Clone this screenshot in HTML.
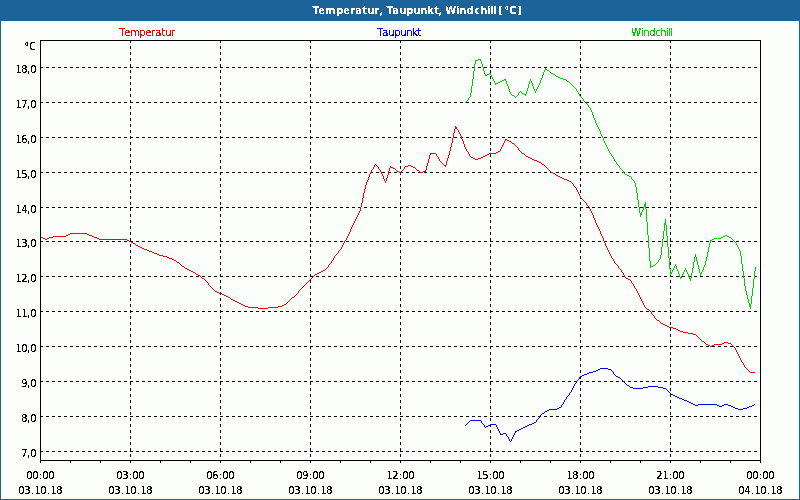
<!DOCTYPE html>
<html lang="de">
<head>
<meta charset="utf-8">
<title>Temperatur, Taupunkt, Windchill [°C]</title>
<style>
html,body{margin:0;padding:0;background:#fcfefb;}
body{width:800px;height:500px;overflow:hidden;position:relative;font-family:"Liberation Sans",sans-serif;}
svg{position:absolute;left:0;top:0;display:block;}
text{font-family:"DejaVu Sans Condensed","Liberation Sans",sans-serif;font-size:11px;fill:#000;}
.t{font-weight:bold;fill:#fff;}
.g line{stroke:#000;stroke-width:1;stroke-dasharray:3 3;}
</style>
</head>
<body>
<svg width="800" height="500" viewBox="0 0 800 500">
<defs>
<filter id="cr" x="0" y="0" width="800" height="500" filterUnits="userSpaceOnUse" color-interpolation-filters="sRGB">
<feComponentTransfer><feFuncA type="discrete" tableValues="0 0 1 1 1"/></feComponentTransfer>
</filter>
<filter id="cb" x="0" y="0" width="800" height="21" filterUnits="userSpaceOnUse" color-interpolation-filters="sRGB">
<feComponentTransfer><feFuncA type="discrete" tableValues="0 1"/></feComponentTransfer>
</filter>
</defs>
<rect x="0" y="0" width="800" height="500" fill="#fcfefb"/>
<rect x="0" y="0" width="800" height="21" fill="#1c6399"/>
<rect x="0" y="0" width="1" height="500" fill="#1c6399"/>
<rect x="799" y="0" width="1" height="500" fill="#1c6399"/>
<rect x="0" y="499" width="800" height="1" fill="#1c6399"/>
<g class="g" shape-rendering="crispEdges">
<line x1="40" y1="67.5" x2="757" y2="67.5"/>
<line x1="40" y1="102.5" x2="757" y2="102.5"/>
<line x1="40" y1="137.5" x2="757" y2="137.5"/>
<line x1="40" y1="172.5" x2="757" y2="172.5"/>
<line x1="40" y1="207.5" x2="757" y2="207.5"/>
<line x1="40" y1="241.5" x2="757" y2="241.5"/>
<line x1="40" y1="276.5" x2="757" y2="276.5"/>
<line x1="40" y1="311.5" x2="757" y2="311.5"/>
<line x1="40" y1="346.5" x2="757" y2="346.5"/>
<line x1="40" y1="381.5" x2="757" y2="381.5"/>
<line x1="40" y1="416.5" x2="757" y2="416.5"/>
<line x1="40" y1="451.5" x2="757" y2="451.5"/>
<line x1="130.5" y1="40" x2="130.5" y2="457"/>
<line x1="220.5" y1="40" x2="220.5" y2="457"/>
<line x1="310.5" y1="40" x2="310.5" y2="457"/>
<line x1="400.5" y1="40" x2="400.5" y2="457"/>
<line x1="490.5" y1="40" x2="490.5" y2="457"/>
<line x1="580.5" y1="40" x2="580.5" y2="457"/>
<line x1="670.5" y1="40" x2="670.5" y2="457"/>
</g>
<g shape-rendering="crispEdges">
<path fill="#ff0000" d="M40 236h1v1h-1zM41 237h2v1h-2zM43 238h2v1h-2zM45 239h2v1h-2zM47 238h2v1h-2zM49 237h4v1h-4zM53 236h13v1h-13zM66 235h2v1h-2zM68 234h2v1h-2zM70 233h17v1h-17zM87 234h2v1h-2zM89 235h3v1h-3zM92 236h2v1h-2zM94 237h3v1h-3zM97 238h2v1h-2zM99 239h28v1h-28zM127 240h2v1h-2zM129 241h2v1h-2zM131 242h2v1h-2zM133 243h2v1h-2zM135 244h1v1h-1zM136 245h2v1h-2zM138 246h2v1h-2zM140 247h2v1h-2zM142 248h2v1h-2zM144 249h3v1h-3zM147 250h2v1h-2zM149 251h3v1h-3zM152 252h2v1h-2zM154 253h3v1h-3zM157 254h2v1h-2zM159 255h4v1h-4zM163 256h4v1h-4zM167 257h2v1h-2zM169 258h3v1h-3zM172 259h2v1h-2zM174 260h2v1h-2zM176 261h1v1h-1zM177 262h2v1h-2zM179 263h1v1h-1zM180 264h1v1h-1zM181 265h1v1h-1zM182 266h2v1h-2zM184 267h1v1h-1zM185 268h2v1h-2zM187 269h2v1h-2zM189 270h2v1h-2zM191 271h2v1h-2zM193 272h2v1h-2zM195 273h1v1h-1zM196 274h2v1h-2zM198 275h2v1h-2zM200 276h1v1h-1zM201 277h1v1h-1zM202 278h2v1h-2zM204 279h1v1h-1zM205 280h1v1h-1zM206 281h1v1h-1zM207 282h1v1h-1zM208 283h1v2h-1zM209 285h1v1h-1zM210 286h1v1h-1zM211 287h1v1h-1zM212 288h1v1h-1zM213 289h1v1h-1zM214 290h1v1h-1zM215 291h2v1h-2zM217 292h2v1h-2zM219 293h3v1h-3zM222 294h2v1h-2zM224 295h2v1h-2zM226 296h2v1h-2zM228 297h2v1h-2zM230 298h1v1h-1zM231 299h2v1h-2zM233 300h2v1h-2zM235 301h2v1h-2zM237 302h2v1h-2zM239 303h2v1h-2zM241 304h2v1h-2zM243 305h2v1h-2zM245 306h3v1h-3zM248 307h10v1h-10zM258 308h10v1h-10zM268 307h10v1h-10zM278 306h4v1h-4zM282 305h2v1h-2zM284 304h2v1h-2zM286 303h1v1h-1zM287 302h1v1h-1zM288 301h1v1h-1zM289 300h1v1h-1zM290 299h1v1h-1zM291 298h1v1h-1zM292 297h2v1h-2zM294 296h1v1h-1zM295 295h1v1h-1zM296 294h1v1h-1zM297 293h1v1h-1zM298 291h1v2h-1zM299 290h1v1h-1zM300 289h1v1h-1zM301 288h1v1h-1zM302 287h1v1h-1zM303 286h1v1h-1zM304 285h1v1h-1zM305 284h1v1h-1zM306 283h1v1h-1zM307 282h1v1h-1zM308 281h1v1h-1zM309 280h1v1h-1zM310 279h1v1h-1zM311 278h1v1h-1zM312 277h1v1h-1zM313 276h1v1h-1zM314 275h1v1h-1zM315 274h2v1h-2zM317 273h2v1h-2zM319 272h2v1h-2zM321 271h2v1h-2zM323 270h2v1h-2zM325 269h1v1h-1zM326 268h1v1h-1zM327 267h1v1h-1zM328 265h1v2h-1zM329 264h1v1h-1zM330 263h1v1h-1zM331 261h1v2h-1zM332 260h1v1h-1zM333 258h1v2h-1zM334 256h1v2h-1zM335 255h1v1h-1zM336 254h1v1h-1zM337 253h1v1h-1zM338 251h1v2h-1zM339 250h1v1h-1zM340 249h1v1h-1zM341 247h1v2h-1zM342 245h1v2h-1zM343 243h1v2h-1zM344 241h1v2h-1zM345 240h1v1h-1zM346 238h1v2h-1zM347 236h1v2h-1zM348 234h1v2h-1zM349 232h1v2h-1zM350 229h1v3h-1zM351 227h1v2h-1zM352 225h1v2h-1zM353 223h1v2h-1zM354 221h1v2h-1zM355 219h1v2h-1zM356 217h1v2h-1zM357 215h1v2h-1zM358 213h1v2h-1zM359 211h1v2h-1zM360 207h1v4h-1zM361 203h1v4h-1zM362 198h1v5h-1zM363 193h1v5h-1zM364 189h1v4h-1zM365 185h1v4h-1zM366 182h1v3h-1zM367 180h1v2h-1zM368 177h1v3h-1zM369 174h1v3h-1zM370 172h1v2h-1zM371 170h1v2h-1zM372 169h1v1h-1zM373 167h1v2h-1zM374 165h1v2h-1zM375 164h1v1h-1zM376 165h1v1h-1zM377 166h1v1h-1zM378 167h1v2h-1zM379 169h1v1h-1zM380 170h1v2h-1zM381 172h1v2h-1zM382 174h1v2h-1zM383 176h1v3h-1zM384 179h1v2h-1zM385 181h1v2h-1zM386 178h1v3h-1zM387 175h1v3h-1zM388 171h1v4h-1zM389 168h1v3h-1zM390 166h1v2h-1zM391 167h2v1h-2zM393 168h2v1h-2zM395 169h1v1h-1zM396 170h1v1h-1zM397 171h2v1h-2zM399 172h1v1h-1zM400 173h1v1h-1zM401 171h1v2h-1zM402 170h1v1h-1zM403 169h1v1h-1zM404 167h1v2h-1zM405 166h3v1h-3zM408 165h3v1h-3zM411 166h2v1h-2zM413 167h2v1h-2zM415 168h1v1h-1zM416 169h1v1h-1zM417 170h2v1h-2zM419 171h1v1h-1zM420 172h3v1h-3zM423 171h3v1h-3zM425 170h1v1h-1zM426 166h1v4h-1zM427 163h1v3h-1zM428 159h1v4h-1zM429 155h1v4h-1zM430 153h6v1h-6zM430 154h1v1h-1zM436 154h1v2h-1zM437 156h1v1h-1zM438 157h1v2h-1zM439 159h1v2h-1zM440 161h1v1h-1zM441 162h1v1h-1zM442 163h1v1h-1zM443 164h1v1h-1zM444 165h2v1h-2zM445 166h1v1h-1zM446 161h1v4h-1zM447 158h1v3h-1zM448 155h1v3h-1zM449 151h1v4h-1zM450 147h1v4h-1zM451 143h1v4h-1zM452 138h1v5h-1zM453 133h1v5h-1zM454 129h1v4h-1zM455 126h1v3h-1zM456 127h1v2h-1zM457 129h1v1h-1zM458 130h1v2h-1zM459 132h1v2h-1zM460 134h1v2h-1zM461 136h1v3h-1zM462 139h1v2h-1zM463 141h1v3h-1zM464 144h1v3h-1zM465 147h1v2h-1zM466 149h1v2h-1zM467 151h1v1h-1zM468 152h1v2h-1zM469 154h1v2h-1zM470 156h1v1h-1zM471 157h2v1h-2zM473 158h2v1h-2zM475 159h3v1h-3zM478 158h3v1h-3zM481 157h2v1h-2zM483 156h2v1h-2zM485 155h2v1h-2zM487 154h2v1h-2zM489 153h7v1h-7zM496 152h2v1h-2zM498 151h2v1h-2zM500 149h1v2h-1zM501 147h1v2h-1zM502 145h1v2h-1zM503 143h1v2h-1zM504 141h1v2h-1zM505 139h2v1h-2zM505 140h1v1h-1zM507 140h2v1h-2zM509 141h2v1h-2zM511 142h1v1h-1zM512 143h2v1h-2zM514 144h1v1h-1zM515 145h1v1h-1zM516 146h1v1h-1zM517 147h1v1h-1zM518 148h1v2h-1zM519 150h1v1h-1zM520 151h1v1h-1zM521 152h1v1h-1zM522 153h2v1h-2zM524 154h1v1h-1zM525 155h1v1h-1zM526 156h2v1h-2zM528 157h2v1h-2zM530 158h2v1h-2zM532 159h2v1h-2zM534 160h3v1h-3zM537 161h2v1h-2zM539 162h2v1h-2zM541 163h1v1h-1zM542 164h2v1h-2zM544 165h1v1h-1zM545 166h1v1h-1zM546 167h1v1h-1zM547 168h1v1h-1zM548 169h1v1h-1zM549 170h1v1h-1zM550 171h1v1h-1zM551 172h2v1h-2zM553 173h2v1h-2zM555 174h1v1h-1zM556 175h2v1h-2zM558 176h2v1h-2zM560 177h2v1h-2zM562 178h2v1h-2zM564 179h3v1h-3zM567 180h2v1h-2zM569 181h2v1h-2zM571 182h1v1h-1zM572 183h1v1h-1zM573 184h1v2h-1zM574 186h1v1h-1zM575 187h1v1h-1zM576 188h1v2h-1zM577 190h1v2h-1zM578 192h1v2h-1zM579 194h1v2h-1zM580 196h1v2h-1zM581 198h1v1h-1zM582 199h1v1h-1zM583 200h1v1h-1zM584 201h1v1h-1zM585 202h1v1h-1zM586 203h1v2h-1zM587 205h1v1h-1zM588 206h1v1h-1zM589 207h1v2h-1zM590 209h1v2h-1zM591 211h1v2h-1zM592 213h1v2h-1zM593 215h1v3h-1zM594 218h1v2h-1zM595 220h1v3h-1zM596 223h1v2h-1zM597 225h1v2h-1zM598 227h1v2h-1zM599 229h1v2h-1zM600 231h1v3h-1zM601 234h1v2h-1zM602 236h1v2h-1zM603 238h1v3h-1zM604 241h1v2h-1zM605 243h1v3h-1zM606 246h1v2h-1zM607 248h1v2h-1zM608 250h1v2h-1zM609 252h1v2h-1zM610 254h1v2h-1zM611 256h1v2h-1zM612 258h1v1h-1zM613 259h1v2h-1zM614 261h1v2h-1zM615 263h1v1h-1zM616 264h1v1h-1zM617 265h1v1h-1zM618 266h1v2h-1zM619 268h1v1h-1zM620 269h1v1h-1zM621 270h1v2h-1zM622 272h1v1h-1zM623 273h1v2h-1zM624 275h1v2h-1zM625 277h1v1h-1zM626 278h2v1h-2zM628 279h2v1h-2zM630 280h1v1h-1zM631 281h1v2h-1zM632 283h1v1h-1zM633 284h1v2h-1zM634 286h1v2h-1zM635 288h1v1h-1zM636 289h1v2h-1zM637 291h1v2h-1zM638 293h1v2h-1zM639 295h1v2h-1zM640 297h1v2h-1zM641 299h1v2h-1zM642 301h1v2h-1zM643 303h1v2h-1zM644 305h1v2h-1zM645 307h1v1h-1zM646 308h1v1h-1zM647 309h2v1h-2zM649 310h1v1h-1zM650 311h1v1h-1zM651 312h1v2h-1zM652 314h1v1h-1zM653 315h1v1h-1zM654 316h1v2h-1zM655 318h1v1h-1zM656 319h1v1h-1zM657 320h2v1h-2zM659 321h1v1h-1zM660 322h1v1h-1zM661 323h2v1h-2zM663 324h2v1h-2zM665 325h2v1h-2zM667 326h2v1h-2zM669 327h4v1h-4zM673 328h3v1h-3zM676 329h2v1h-2zM678 330h2v1h-2zM680 331h3v1h-3zM683 332h5v1h-5zM688 333h5v1h-5zM693 334h3v1h-3zM696 335h1v1h-1zM697 336h1v1h-1zM698 337h1v1h-1zM699 338h1v1h-1zM700 339h1v1h-1zM701 340h1v1h-1zM702 341h2v1h-2zM704 342h1v1h-1zM705 343h1v1h-1zM706 344h2v1h-2zM708 345h2v1h-2zM710 346h2v1h-2zM712 345h2v1h-2zM714 344h8v1h-8zM722 343h2v1h-2zM724 342h4v1h-4zM728 343h3v1h-3zM731 344h1v1h-1zM732 345h1v1h-1zM733 346h1v1h-1zM734 347h1v1h-1zM735 348h1v2h-1zM736 350h1v2h-1zM737 352h1v2h-1zM738 354h1v2h-1zM739 356h1v2h-1zM740 358h1v2h-1zM741 360h1v2h-1zM742 362h1v1h-1zM743 363h1v2h-1zM744 365h1v2h-1zM745 367h1v1h-1zM746 368h1v1h-1zM747 369h1v1h-1zM748 370h1v1h-1zM749 371h1v1h-1zM750 372h5v1h-5z"/>
<path fill="#00d000" d="M465 102h1v1h-1zM466 101h1v1h-1zM467 100h1v1h-1zM468 98h1v2h-1zM469 97h1v1h-1zM470 93h1v4h-1zM471 86h1v7h-1zM472 79h1v7h-1zM473 71h1v8h-1zM474 64h1v7h-1zM475 60h1v4h-1zM476 60h2v1h-2zM478 59h3v1h-3zM480 60h1v1h-1zM481 61h1v3h-1zM482 64h1v3h-1zM483 67h1v4h-1zM484 71h1v3h-1zM485 74h1v2h-1zM486 75h1v1h-1zM487 74h2v1h-2zM489 73h2v1h-2zM490 74h1v1h-1zM491 75h1v2h-1zM492 77h1v2h-1zM493 79h1v2h-1zM494 81h1v2h-1zM495 83h3v1h-3zM495 84h1v1h-1zM498 82h2v1h-2zM500 81h2v1h-2zM502 80h2v1h-2zM504 79h2v1h-2zM505 80h1v1h-1zM506 81h1v3h-1zM507 84h1v2h-1zM508 86h1v3h-1zM509 89h1v3h-1zM510 92h1v2h-1zM511 94h1v1h-1zM512 95h2v1h-2zM514 96h1v1h-1zM515 97h1v1h-1zM516 96h1v1h-1zM517 95h1v1h-1zM518 93h1v2h-1zM519 92h1v1h-1zM520 91h1v1h-1zM521 92h1v1h-1zM522 93h2v1h-2zM524 94h2v1h-2zM525 95h1v1h-1zM526 91h1v3h-1zM527 88h1v3h-1zM528 84h1v4h-1zM529 81h1v3h-1zM530 79h1v2h-1zM531 81h1v2h-1zM532 83h1v3h-1zM533 86h1v3h-1zM534 89h1v2h-1zM535 91h1v2h-1zM536 89h1v2h-1zM537 87h1v2h-1zM538 85h1v2h-1zM539 83h1v2h-1zM540 80h1v3h-1zM541 78h1v2h-1zM542 75h1v3h-1zM543 72h1v3h-1zM544 70h1v2h-1zM545 68h1v2h-1zM546 69h1v1h-1zM547 70h2v1h-2zM549 71h1v1h-1zM550 72h1v1h-1zM551 73h2v1h-2zM553 74h2v1h-2zM555 75h1v1h-1zM556 76h2v1h-2zM558 77h2v1h-2zM560 78h3v1h-3zM563 79h3v1h-3zM566 80h1v1h-1zM567 81h2v1h-2zM569 82h1v1h-1zM570 83h1v1h-1zM571 84h1v1h-1zM572 85h1v1h-1zM573 86h1v1h-1zM574 87h1v1h-1zM575 88h1v1h-1zM576 89h1v2h-1zM577 91h1v1h-1zM578 92h1v2h-1zM579 94h1v2h-1zM580 96h1v1h-1zM581 97h1v1h-1zM582 98h1v1h-1zM583 99h1v2h-1zM584 101h1v1h-1zM585 102h1v1h-1zM586 103h1v1h-1zM587 104h1v1h-1zM588 105h1v2h-1zM589 107h1v1h-1zM590 108h1v2h-1zM591 110h1v2h-1zM592 112h1v3h-1zM593 115h1v3h-1zM594 118h1v2h-1zM595 120h1v3h-1zM596 123h1v2h-1zM597 125h1v2h-1zM598 127h1v2h-1zM599 129h1v2h-1zM600 131h1v3h-1zM601 134h1v2h-1zM602 136h1v2h-1zM603 138h1v3h-1zM604 141h1v2h-1zM605 143h1v2h-1zM606 145h1v2h-1zM607 147h1v2h-1zM608 149h1v2h-1zM609 151h1v2h-1zM610 153h1v1h-1zM611 154h1v2h-1zM612 156h1v1h-1zM613 157h1v2h-1zM614 159h1v2h-1zM615 161h1v1h-1zM616 162h1v2h-1zM617 164h1v1h-1zM618 165h1v1h-1zM619 166h1v2h-1zM620 168h1v1h-1zM621 169h1v1h-1zM622 170h1v1h-1zM623 171h1v2h-1zM624 173h1v1h-1zM625 174h2v1h-2zM627 175h2v1h-2zM629 176h2v1h-2zM631 177h1v2h-1zM632 179h1v1h-1zM633 180h1v1h-1zM634 181h1v2h-1zM635 183h1v4h-1zM636 187h1v6h-1zM637 193h1v7h-1zM638 200h1v7h-1zM639 207h1v6h-1zM640 213h1v4h-1zM641 212h1v3h-1zM642 210h1v2h-1zM643 207h1v3h-1zM644 204h1v3h-1zM645 202h1v7h-1zM646 209h1v13h-1zM647 222h1v13h-1zM648 235h1v13h-1zM649 248h1v13h-1zM650 261h1v7h-1zM651 266h2v1h-2zM653 265h2v1h-2zM655 264h1v1h-1zM656 263h1v1h-1zM657 262h1v1h-1zM658 260h1v2h-1zM659 259h1v1h-1zM660 255h1v4h-1zM661 247h1v8h-1zM662 239h1v8h-1zM663 231h1v8h-1zM664 223h1v8h-1zM665 219h1v6h-1zM666 225h1v11h-1zM667 236h1v11h-1zM668 247h1v11h-1zM669 258h1v11h-1zM670 269h1v6h-1zM671 272h1v2h-1zM672 270h1v2h-1zM673 268h1v2h-1zM674 266h1v2h-1zM675 264h1v2h-1zM676 266h1v3h-1zM677 269h1v2h-1zM678 271h1v3h-1zM679 274h1v3h-1zM680 277h2v1h-2zM680 278h1v1h-1zM681 276h1v1h-1zM682 274h1v2h-1zM683 272h1v2h-1zM684 270h1v2h-1zM685 268h1v2h-1zM686 270h1v2h-1zM687 272h1v2h-1zM688 274h1v3h-1zM689 277h1v2h-1zM690 278h1v3h-1zM691 273h1v5h-1zM692 268h1v5h-1zM693 262h1v6h-1zM694 257h1v5h-1zM695 254h1v3h-1zM696 257h1v4h-1zM697 261h1v4h-1zM698 265h1v4h-1zM699 269h1v4h-1zM700 273h1v3h-1zM701 272h1v2h-1zM702 270h1v2h-1zM703 267h1v3h-1zM704 265h1v2h-1zM705 261h1v4h-1zM706 257h1v4h-1zM707 252h1v5h-1zM708 247h1v5h-1zM709 243h1v4h-1zM710 240h1v3h-1zM711 240h1v1h-1zM712 239h2v1h-2zM714 238h7v1h-7zM721 237h2v1h-2zM723 236h2v1h-2zM725 235h2v1h-2zM727 236h2v1h-2zM729 237h2v1h-2zM731 238h1v1h-1zM732 239h1v1h-1zM733 240h1v1h-1zM734 241h1v1h-1zM735 242h1v1h-1zM736 243h1v2h-1zM737 245h1v2h-1zM738 247h1v2h-1zM739 249h1v2h-1zM740 251h1v5h-1zM741 256h1v8h-1zM742 264h1v7h-1zM743 271h1v7h-1zM744 278h1v8h-1zM745 286h1v5h-1zM746 291h1v4h-1zM747 295h1v4h-1zM748 299h1v4h-1zM749 303h1v4h-1zM750 304h1v5h-1zM751 296h1v8h-1zM752 288h1v8h-1zM753 279h1v9h-1zM754 271h1v8h-1zM755 267h1v4h-1z"/>
<path fill="#0000ff" d="M465 425h1v1h-1zM466 424h1v1h-1zM467 423h1v1h-1zM468 422h1v1h-1zM469 421h1v1h-1zM470 420h11v1h-11zM481 421h1v2h-1zM482 423h1v1h-1zM483 424h1v1h-1zM484 425h1v2h-1zM485 427h1v1h-1zM486 426h2v1h-2zM488 425h2v1h-2zM490 424h6v1h-6zM496 425h1v2h-1zM497 427h1v2h-1zM498 429h1v2h-1zM499 431h1v2h-1zM500 433h1v2h-1zM501 434h2v1h-2zM503 433h3v1h-3zM506 434h1v2h-1zM507 436h1v1h-1zM508 437h1v2h-1zM509 439h1v2h-1zM510 441h1v1h-1zM511 439h1v2h-1zM512 437h1v2h-1zM513 435h1v2h-1zM514 433h1v2h-1zM515 431h2v1h-2zM515 432h1v1h-1zM517 430h2v1h-2zM519 429h2v1h-2zM521 428h2v1h-2zM523 427h2v1h-2zM525 426h2v1h-2zM527 425h2v1h-2zM529 424h3v1h-3zM532 423h2v1h-2zM534 422h2v1h-2zM536 420h1v2h-1zM537 419h1v1h-1zM538 418h1v1h-1zM539 416h1v2h-1zM540 415h1v1h-1zM541 414h1v1h-1zM542 413h2v1h-2zM544 412h1v1h-1zM545 411h2v1h-2zM547 410h2v1h-2zM549 409h8v1h-8zM557 408h2v1h-2zM559 407h2v1h-2zM561 405h1v2h-1zM562 404h1v1h-1zM563 402h1v2h-1zM564 400h1v2h-1zM565 399h1v1h-1zM566 397h1v2h-1zM567 396h1v1h-1zM568 395h1v1h-1zM569 393h1v2h-1zM570 392h1v1h-1zM571 390h1v2h-1zM572 388h1v2h-1zM573 386h1v2h-1zM574 384h1v2h-1zM575 383h1v1h-1zM576 381h1v2h-1zM577 380h1v1h-1zM578 379h1v1h-1zM579 377h1v2h-1zM580 376h2v1h-2zM582 375h2v1h-2zM584 374h3v1h-3zM587 373h2v1h-2zM589 372h4v1h-4zM593 371h3v1h-3zM596 370h2v1h-2zM598 369h2v1h-2zM600 368h8v1h-8zM608 369h3v1h-3zM611 370h1v1h-1zM612 371h1v1h-1zM613 372h1v2h-1zM614 374h1v1h-1zM615 375h1v1h-1zM616 376h2v1h-2zM618 377h2v1h-2zM620 378h1v1h-1zM621 379h1v1h-1zM622 380h1v1h-1zM623 381h1v1h-1zM624 382h1v1h-1zM625 383h1v1h-1zM626 384h1v1h-1zM627 385h2v1h-2zM629 386h1v1h-1zM630 387h3v1h-3zM633 388h10v1h-10zM643 387h5v1h-5zM648 386h10v1h-10zM658 387h5v1h-5zM663 388h3v1h-3zM666 389h1v1h-1zM667 390h1v1h-1zM668 391h1v1h-1zM669 392h1v1h-1zM670 393h1v1h-1zM671 394h2v1h-2zM673 395h2v1h-2zM675 396h2v1h-2zM677 397h2v1h-2zM679 398h3v1h-3zM682 399h2v1h-2zM684 400h3v1h-3zM687 401h2v1h-2zM689 402h2v1h-2zM691 403h2v1h-2zM693 404h2v1h-2zM695 405h3v1h-3zM698 404h19v1h-19zM717 405h2v1h-2zM719 406h3v1h-3zM722 405h2v1h-2zM724 404h4v1h-4zM728 405h3v1h-3zM731 406h2v1h-2zM733 407h2v1h-2zM735 408h3v1h-3zM738 409h5v1h-5zM743 408h4v1h-4zM747 407h2v1h-2zM749 406h3v1h-3zM752 405h2v1h-2zM754 404h1v1h-1z"/>
<rect x="40.5" y="40.5" width="720" height="420" fill="none" stroke="#000" stroke-width="1"/>
<rect x="40" y="461" width="1" height="2" fill="#000"/>
<rect x="70" y="461" width="1" height="2" fill="#000"/>
<rect x="100" y="461" width="1" height="2" fill="#000"/>
<rect x="130" y="461" width="1" height="2" fill="#000"/>
<rect x="160" y="461" width="1" height="2" fill="#000"/>
<rect x="190" y="461" width="1" height="2" fill="#000"/>
<rect x="220" y="461" width="1" height="2" fill="#000"/>
<rect x="250" y="461" width="1" height="2" fill="#000"/>
<rect x="280" y="461" width="1" height="2" fill="#000"/>
<rect x="310" y="461" width="1" height="2" fill="#000"/>
<rect x="340" y="461" width="1" height="2" fill="#000"/>
<rect x="370" y="461" width="1" height="2" fill="#000"/>
<rect x="400" y="461" width="1" height="2" fill="#000"/>
<rect x="430" y="461" width="1" height="2" fill="#000"/>
<rect x="460" y="461" width="1" height="2" fill="#000"/>
<rect x="490" y="461" width="1" height="2" fill="#000"/>
<rect x="520" y="461" width="1" height="2" fill="#000"/>
<rect x="550" y="461" width="1" height="2" fill="#000"/>
<rect x="580" y="461" width="1" height="2" fill="#000"/>
<rect x="610" y="461" width="1" height="2" fill="#000"/>
<rect x="640" y="461" width="1" height="2" fill="#000"/>
<rect x="670" y="461" width="1" height="2" fill="#000"/>
<rect x="700" y="461" width="1" height="2" fill="#000"/>
<rect x="730" y="461" width="1" height="2" fill="#000"/>
<rect x="760" y="461" width="1" height="2" fill="#000"/>
</g>
<g filter="url(#cb)">
<text class="t" x="312.25 318.25 325.25 336.25 343.25 350.25 355.25 362.25 367.25 374.25 379.25 383.25 386.25 392.25 399.25 406.25 413.25 420.25 427.25 434.25 438.25 442.25 445.25 456.25 459.25 466.25 474.25 480.25 487.25 490.25 493.25 495.25 498.25 504.25 509.25 517.25" y="14">Temperatur, Taupunkt, Windchill [°C]</text>
</g>
<g filter="url(#cr)">
<text style="fill:#ff0000" x="119.25 124.25 130.25 139.25 145.25 151.25 155.25 161.25 165.25 171.25" y="36">Temperatur</text>
<text style="fill:#0000ff" x="377.25 382.25 388.25 394.25 400.25 406.25 412.25 417.25" y="36">Taupunkt</text>
<text style="fill:#00d000" x="631.25 641.25 643.25 649.25 655.25 660.25 666.25 668.25 670.25" y="36">Windchill</text>
<text x="24.25 29.25" y="50">°C</text>
<text x="15.5 21.25 27 30.25" y="73">18,0</text>
<text x="15.5 21.25 27 30.25" y="108">17,0</text>
<text x="15.5 21.25 27 30.25" y="143">16,0</text>
<text x="15.5 21.25 27 30.25" y="178">15,0</text>
<text x="15.5 21.25 27 30.25" y="213">14,0</text>
<text x="15.5 21.25 27 30.25" y="247">13,0</text>
<text x="15.5 21.25 27 30.25" y="282">12,0</text>
<text x="15.5 21.5 27 30.25" y="317">11,0</text>
<text x="15.5 21.25 27 30.25" y="352">10,0</text>
<text x="21.25 27 30.25" y="387">9,0</text>
<text x="21.25 27 30.25" y="422">8,0</text>
<text x="21.25 27 30.25" y="457">7,0</text>
<text x="26.25 32.25 39 42.25 48.25" y="479">00:00</text>
<text x="18.25 24.25 31.25 34.5 40.25 47.25 50.5 56.25" y="494">03.10.18</text>
<text x="116.25 122.25 129 132.25 138.25" y="479">03:00</text>
<text x="108.25 114.25 121.25 124.5 130.25 137.25 140.5 146.25" y="494">03.10.18</text>
<text x="206.25 212.25 219 222.25 228.25" y="479">06:00</text>
<text x="198.25 204.25 211.25 214.5 220.25 227.25 230.5 236.25" y="494">03.10.18</text>
<text x="296.25 302.25 309 312.25 318.25" y="479">09:00</text>
<text x="288.25 294.25 301.25 304.5 310.25 317.25 320.5 326.25" y="494">03.10.18</text>
<text x="386.5 392.25 399 402.25 408.25" y="479">12:00</text>
<text x="378.25 384.25 391.25 394.5 400.25 407.25 410.5 416.25" y="494">03.10.18</text>
<text x="476.5 482.25 489 492.25 498.25" y="479">15:00</text>
<text x="468.25 474.25 481.25 484.5 490.25 497.25 500.5 506.25" y="494">03.10.18</text>
<text x="566.5 572.25 579 582.25 588.25" y="479">18:00</text>
<text x="558.25 564.25 571.25 574.5 580.25 587.25 590.5 596.25" y="494">03.10.18</text>
<text x="656.25 662.5 669 672.25 678.25" y="479">21:00</text>
<text x="648.25 654.25 661.25 664.5 670.25 677.25 680.5 686.25" y="494">03.10.18</text>
<text x="746.25 752.25 759 762.25 768.25" y="479">00:00</text>
<text x="738.25 744.25 751.25 754.5 760.25 767.25 770.5 776.25" y="494">04.10.18</text>
</g>
</svg>
</body>
</html>
